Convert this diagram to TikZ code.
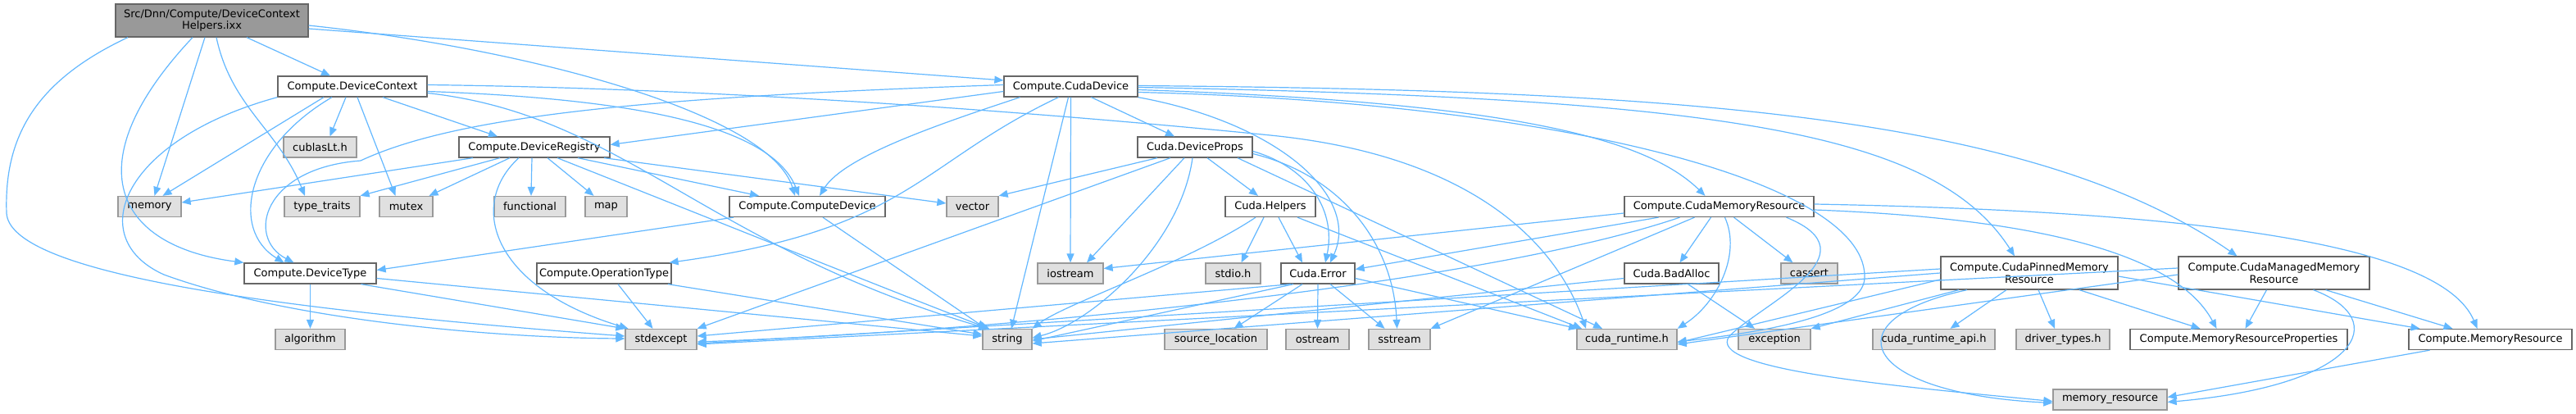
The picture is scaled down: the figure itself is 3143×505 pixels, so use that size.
\documentclass[tikz,border=0pt]{standalone}
\usepackage{fontspec}
\setmainfont{DejaVu Sans}
\usetikzlibrary{arrows.meta}
\definecolor{edgecol}{HTML}{63B8FF}
\definecolor{boxborder}{HTML}{666666}
\definecolor{extborder}{HTML}{999999}
\definecolor{extfill}{HTML}{E0E0E0}
\definecolor{rootfill}{HTML}{999999}
\newcommand\nodefont{\fontsize{13pt}{14.5pt}\selectfont}
\begin{document}
\begin{tikzpicture}[x=1pt,y=-1pt,
  box/.style={draw=boxborder, fill=white, line width=1.3pt, minimum height=25pt, inner sep=0pt, font=\nodefont},
  ext/.style={box, draw=extborder, fill=extfill},
  rootbox/.style={box, fill=rootfill, align=center, minimum height=40pt},
  twoline/.style={box, align=center, minimum height=40pt},
  conn/.style={draw=edgecol, line width=1.2pt, -{Triangle[length=11pt,width=9pt]}}]
\fill[white] (0,0) rectangle (3143,505);
\useasboundingbox (0,0) rectangle (3143,505);
% nodes
\node[rootbox, minimum width=235pt] (root) at (258.5,25) {Src/Dnn/Compute/DeviceContext\\Helpers.ixx};
\node[box, minimum width=182pt] (dctx) at (430,105.5) {Compute.DeviceContext};
\node[box, minimum width=163pt] (cudadev) at (1306.5,105.5) {Compute.CudaDevice};
\node[ext, minimum width=89pt] (cublas) at (390.5,179.5) {cublasLt.h};
\node[box, minimum width=184pt] (dreg) at (652,179.5) {Compute.DeviceRegistry};
\node[box, minimum width=140pt] (dprops) at (1458,179.5) {Cuda.DeviceProps};
\node[ext, minimum width=77pt] (memory) at (182.5,252) {memory};
\node[ext, minimum width=92pt] (typetraits) at (393,252) {type\_traits};
\node[ext, minimum width=65pt] (mutex) at (495.5,252) {mutex};
\node[ext, minimum width=87pt] (functional) at (646.5,252) {functional};
\node[ext, minimum width=51pt] (map) at (739.5,252) {map};
\node[box, minimum width=190pt] (compdev) at (985,252) {Compute.ComputeDevice};
\node[ext, minimum width=63pt] (vector) at (1186.5,252) {vector};
\node[box, minimum width=110pt] (helpers) at (1550,252) {Cuda.Helpers};
\node[box, minimum width=231pt] (cmr) at (2097.5,252) {Compute.CudaMemoryResource};
\node[box, minimum width=161pt] (devtype) at (378.5,333.5) {Compute.DeviceType};
\node[box, minimum width=164pt] (optype) at (737,333.5) {Compute.OperationType};
\node[ext, minimum width=80pt] (iostream) at (1306,333.5) {iostream};
\node[ext, minimum width=67pt] (stdio) at (1504.5,333.5) {stdio.h};
\node[box, minimum width=90pt] (error) at (1608,333.5) {Cuda.Error};
\node[box, minimum width=115pt] (badalloc) at (2039.5,333.5) {Cuda.BadAlloc};
\node[ext, minimum width=69pt] (cassert) at (2207.5,333.5) {cassert};
\node[twoline, minimum width=216pt] (pinned) at (2476,333) {Compute.CudaPinnedMemory\\Resource};
\node[twoline, minimum width=233pt] (managed) at (2774.5,333) {Compute.CudaManagedMemory\\Resource};
\node[ext, minimum width=85pt] (algorithm) at (378.5,414) {algorithm};
\node[ext, minimum width=87pt] (stdexcept) at (806.5,414) {stdexcept};
\node[ext, minimum width=60pt] (string) at (1229,414) {string};
\node[ext, minimum width=125pt] (srcloc) at (1483.5,414) {source\_location};
\node[ext, minimum width=77pt] (ostream) at (1607.5,414) {ostream};
\node[ext, minimum width=75pt] (sstream) at (1707.5,414) {sstream};
\node[ext, minimum width=122pt] (cudart) at (1985,414) {cuda\_runtime.h};
\node[ext, minimum width=88pt] (exception) at (2165,414) {exception};
\node[ext, minimum width=149pt] (cudartapi) at (2359.5,414) {cuda\_runtime\_api.h};
\node[ext, minimum width=114pt] (drivertypes) at (2517,414) {driver\_types.h};
\node[box, minimum width=265pt] (mrp) at (2731.5,414) {Compute.MemoryResourceProperties};
\node[box, minimum width=199pt] (memres) at (3038.5,414) {Compute.MemoryResource};
\node[ext, minimum width=139pt] (memresstd) at (2574.5,487.5) {memory\_resource};
% root edges
\draw[conn] ([xshift=-102.5pt]root.south) .. controls (40,100) and (5,170) .. (8,260) .. controls (12,330) and (300,375) .. ([yshift=4pt]stdexcept.west);
\draw[conn] ([xshift=-23.5pt]root.south) .. controls (90,200) and (140,300) .. (devtype.north west);
\draw[conn] ([xshift=-8.5pt]root.south) -- ([xshift=6pt]memory.north);
\draw[conn] ([xshift=5.5pt]root.south) to[out=-78,in=112] ([xshift=-21pt]typetraits.north);
\draw[conn] ([xshift=42.5pt]root.south) -- ([xshift=-27pt]dctx.north);
\draw[conn] ([yshift=-10pt]root.east) -- ([yshift=7.5pt]cudadev.west);
\draw[conn] ([yshift=-6pt]root.east) .. controls (650,60) and (940,140) .. ([xshift=-15pt]compdev.north);
% dctx edges
\draw[conn] (dctx.south west) .. controls (150,170) and (100,290) .. (200,335) .. controls (350,390) and (600,412) .. ([yshift=1pt]stdexcept.west);
\draw[conn] ([xshift=-35pt]dctx.south) -- ([xshift=16pt]memory.north);
\draw[conn] ([xshift=-25pt]dctx.south) .. controls (300,180) and (280,280) .. ([xshift=-32pt]devtype.north);
\draw[conn] ([xshift=-8pt]dctx.south) -- ([xshift=12pt]cublas.north);
\draw[conn] ([xshift=6pt]dctx.south) -- ([xshift=-13pt]mutex.north);
\draw[conn] ([xshift=37pt]dctx.south) -- ([xshift=-45pt]dreg.north);
\draw[conn] ([yshift=-6pt]dctx.east) .. controls (760,120) and (940,150) .. ([xshift=-10pt]compdev.north);
\draw[conn] ([yshift=-8pt]dctx.east) .. controls (760,140) and (860,300) .. ([xshift=-24pt]string.north);
\draw[conn] ([yshift=2pt]dctx.east) .. controls (900,108) and (1300,140) .. (1550,165) .. controls (1800,190) and (1900,300) .. ([xshift=-50pt]cudart.north);
% cudadev edges
\draw[conn] ([yshift=-6pt]cudadev.west) -- ([yshift=3pt]dreg.east);
\draw[conn] ([yshift=2pt]cudadev.west) .. controls (800,118) and (560,140) .. (440,196) .. controls (320,205) and (300,290) .. ([xshift=-20pt]devtype.north);
\draw[conn] ([xshift=-62pt]cudadev.south) .. controls (1150,150) and (1030,190) .. ([xshift=15pt]compdev.north);
\draw[conn] ([xshift=-15pt]cudadev.south) .. controls (1120,200) and (1110,280) .. ([xshift=-3pt]optype.north east);
\draw[conn] ([xshift=-3pt]cudadev.south) -- ([xshift=5pt]string.north);
\draw[conn] (cudadev.south) -- (iostream.north);
\draw[conn] ([xshift=25pt]cudadev.south) -- ([xshift=-25pt]dprops.north);
\draw[conn] (cudadev.south east) .. controls (1560,150) and (1660,240) .. ([xshift=15pt]error.north);
\draw[conn] ([yshift=-4pt]cudadev.east) .. controls (1850,125) and (2010,170) .. ([xshift=-17pt]cmr.north);
\draw[conn] ([yshift=-1pt]cudadev.east) .. controls (2100,120) and (2360,160) .. ([xshift=-18pt]pinned.north);
\draw[conn] ([yshift=1pt]cudadev.east) .. controls (2050,110) and (2480,140) .. ([xshift=-45pt]managed.north);
\draw[conn] ([yshift=-7pt]cudadev.east) .. controls (1900,125) and (2270,220) .. (2275,335) .. controls (2280,385) and (2150,405) .. ([yshift=-3pt]cudart.east);
% dreg edges
\draw[conn] ([xshift=-75pt]dreg.south) -- ([yshift=5pt]memory.east);
\draw[conn] ([xshift=-42pt]dreg.south) -- (typetraits.north east);
\draw[conn] ([xshift=-30pt]dreg.south) -- ([xshift=28pt]mutex.north);
\draw[conn] ([xshift=-19pt]dreg.south) .. controls (570,250) and (600,350) .. ([xshift=-40pt]stdexcept.north);
\draw[conn] ([xshift=-3pt]dreg.south) -- ([xshift=1.5pt]functional.north);
\draw[conn] ([xshift=16pt]dreg.south) -- ([xshift=-15pt]map.north);
\draw[conn] ([xshift=28pt]dreg.south) .. controls (850,260) and (1100,360) .. ([xshift=-22pt]string.north);
\draw[conn] ([xshift=53pt]dreg.south) -- ([xshift=-59pt]compdev.north);
\draw[conn] ([xshift=85pt]dreg.south) -- ([yshift=4pt]vector.west);
% dprops edges
\draw[conn] ([xshift=-46pt]dprops.south) -- (vector.north east);
\draw[conn] ([xshift=-30pt]dprops.south) -- (stdexcept.north east);
\draw[conn] ([xshift=-13pt]dprops.south) -- ([xshift=20pt]iostream.north);
\draw[conn] ([xshift=-3pt]dprops.south) .. controls (1440,300) and (1330,395) .. ([yshift=2pt]string.east);
\draw[conn] ([xshift=15pt]dprops.south) -- ([xshift=-15pt]helpers.north);
\draw[conn] ([yshift=-5pt]dprops.east) .. controls (1600,205) and (1630,260) .. ([xshift=9pt]error.north);
\draw[conn] ([yshift=-8pt]dprops.east) .. controls (1640,215) and (1700,300) .. ([xshift=-3pt]sstream.north);
\draw[conn] ([xshift=52pt]dprops.south) -- ([xshift=-30pt]cudart.north);
% helpers edges
\draw[conn] ([xshift=-18pt]helpers.south) .. controls (1450,320) and (1300,370) .. (string.north east);
\draw[conn] ([xshift=-8pt]helpers.south) -- ([xshift=10pt]stdio.north);
\draw[conn] ([xshift=10pt]helpers.south) -- ([xshift=-19pt]error.north);
\draw[conn] ([xshift=33pt]helpers.south) -- ([xshift=-55pt]cudart.north);
% cmr edges
\draw[conn] ([yshift=-8pt]cmr.west) -- ([yshift=6pt]iostream.east);
\draw[conn] ([xshift=-74pt]cmr.south) -- ([yshift=5pt]error.east);
\draw[conn] ([xshift=-48pt]cmr.south) .. controls (1800,350) and (1200,405) .. ([yshift=-3pt]stdexcept.east);
\draw[conn] ([xshift=-30pt]cmr.south) -- (sstream.north east);
\draw[conn] ([xshift=-10pt]cmr.south) -- ([xshift=10pt]badalloc.north);
\draw[conn] ([xshift=7pt]cmr.south) .. controls (2125,310) and (2095,370) .. (cudart.north east);
\draw[conn] ([xshift=18pt]cmr.south) -- ([xshift=-20pt]cassert.north);
\draw[conn] ([xshift=82pt]cmr.south) .. controls (2290,310) and (2150,370) .. (2110,410) .. controls (2080,450) and (2300,470) .. ([yshift=-2pt]memresstd.west);
\draw[conn] ([yshift=-4pt]cmr.east) .. controls (2450,265) and (2650,300) .. ([xshift=-27pt]mrp.north);
\draw[conn] ([yshift=3pt]cmr.east) .. controls (2700,258) and (2980,300) .. ([xshift=-16pt]memres.north);
% error edges
\draw[conn] ([xshift=-33pt]error.south) -- ([yshift=4pt]stdexcept.east);
\draw[conn] ([xshift=-30pt]error.south) -- ([yshift=-2pt]string.east);
\draw[conn] ([xshift=-19pt]error.south) -- ([xshift=22pt]srcloc.north);
\draw[conn] (error.south) -- (ostream.north);
\draw[conn] ([xshift=15pt]error.south) -- ([xshift=-18pt]sstream.north);
\draw[conn] ([yshift=-6pt]error.east) -- ([xshift=-60pt]cudart.north);
% badalloc edges
\draw[conn] ([yshift=-6pt]badalloc.west) -- (string.east);
\draw[conn] ([xshift=20pt]badalloc.south) -- ([xshift=-24pt]exception.north);
% pinned edges
\draw[conn] ([yshift=5pt]pinned.west) -- ([yshift=-5pt]stdexcept.east);
\draw[conn] (pinned.west) -- ([yshift=-5pt]string.east);
\draw[conn] ([yshift=-8pt]pinned.west) -- ([yshift=-4pt]cudart.east);
\draw[conn] ([xshift=-86pt]pinned.south) -- (exception.north east);
\draw[conn] ([xshift=-28pt]pinned.south) -- ([xshift=20pt]cudartapi.north);
\draw[conn] ([xshift=11pt]pinned.south) -- ([xshift=-10pt]drivertypes.north);
\draw[conn] ([xshift=61pt]pinned.south) -- ([xshift=-47pt]mrp.north);
\draw[conn] ([yshift=-4pt]pinned.east) -- ([xshift=-86pt]memres.north);
\draw[conn] ([xshift=-76pt]pinned.south) .. controls (2230,390) and (2270,480) .. ([yshift=-4pt]memresstd.west);
% managed edges
\draw[conn] ([yshift=6pt]managed.west) -- ([yshift=-6pt]stdexcept.east);
\draw[conn] ([yshift=-2pt]managed.west) -- ([yshift=-6pt]cudart.east);
\draw[conn] ([xshift=-9pt]managed.south) -- ([xshift=8pt]mrp.north);
\draw[conn] ([xshift=63pt]managed.south) -- ([xshift=-46pt]memres.north);
\draw[conn] ([xshift=48pt]managed.south) .. controls (2920,390) and (2880,470) .. ([yshift=-3pt]memresstd.east);
\draw[conn] ([xshift=-74pt]memres.south) -- ([yshift=3pt]memresstd.east);
% compdev, devtype, optype edges
\draw[conn] ([xshift=-90pt]compdev.south) -- ([yshift=4pt]devtype.east);
\draw[conn] ([xshift=19pt]compdev.south) -- ([xshift=-26pt]string.north);
\draw[conn] (devtype.south) -- (algorithm.north);
\draw[conn] ([xshift=62pt]devtype.south) -- (stdexcept.north west);
\draw[conn] ([yshift=-6pt]devtype.east) -- ([yshift=4pt]string.west);
\draw[conn] ([xshift=17pt]optype.south) -- ([xshift=-10pt]stdexcept.north);
\draw[conn] ([xshift=78pt]optype.south) -- ([yshift=6pt]string.west);
\end{tikzpicture}
\end{document}
